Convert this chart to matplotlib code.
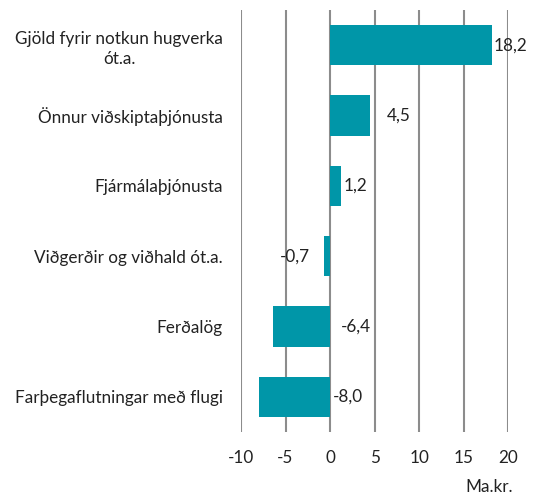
import matplotlib
matplotlib.use('Agg')
import matplotlib.pyplot as plt

# Gogn
flokkar = ['Gjöld fyrir notkun hugverka\nót.a.', 'Önnur viðskiptaþjónusta', 'Fjármálaþjónusta',
           'Viðgerðir og viðhald ót.a.', 'Ferðalög', 'Farþegaflutningar með flugi']
gildi = [18.2, 4.5, 1.2, -0.7, -6.4, -8.0]
x_ticks = [-10, -5, 0, 5, 10, 15, 20]
merki_hlidrun = [1, 12, 2, -10, 8, 2]      # hlidrun merkja i punktum

plt.rcParams['font.family'] = ['Lato', 'DejaVu Sans']
fs = 12.3

fig = plt.figure(figsize=(5.4, 4.98), dpi=100)
ax = fig.add_axes([0.4463, 0.1325, 0.4950, 0.8475])

y = list(range(len(flokkar)))[::-1]
ax.barh(y, gildi, height=0.57, color='#0096A8', zorder=3)

for yi, v, d in zip(y, gildi, merki_hlidrun):
    txt = f'{v:.1f}'.replace('.', ',')
    if d < 0:
        ax.annotate(txt, (v, yi), xytext=(d, 0), textcoords='offset points',
                    ha='right', va='center', fontsize=fs, color='#222222')
    else:
        ax.annotate(txt, (max(v, 0), yi), xytext=(d, 0), textcoords='offset points',
                    ha='left', va='center', fontsize=fs, color='#222222')

ax.set_xlim(-10, 20)
ax.set_ylim(-0.5, len(flokkar) - 0.5)
ax.set_xticks(x_ticks)
ax.set_xticklabels([str(t) for t in x_ticks], fontsize=fs)
ax.set_yticks(y)
ax.set_yticklabels(flokkar, fontsize=fs, multialignment='center', linespacing=1.35)
ax.tick_params(axis='both', length=0, colors='#222222')
ax.tick_params(axis='y', pad=13)
ax.tick_params(axis='x', pad=13)
for s in ax.spines.values():
    s.set_visible(False)
ax.grid(axis='x', color='#8c8c8c', linewidth=1.5, zorder=0)
ax.set_axisbelow(True)

fig.text(0.905, 0.022, 'Ma.kr.', ha='center', va='center', fontsize=fs, color='#222222')

plt.savefig('out.png', dpi=100)
